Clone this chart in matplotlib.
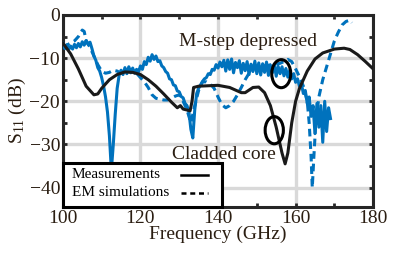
import numpy as np
import matplotlib
matplotlib.use('Agg')
import matplotlib.pyplot as plt
from matplotlib.patches import Ellipse, Rectangle

plt.rcParams['font.family'] = ['Liberation Serif', 'DejaVu Serif']
plt.rcParams['mathtext.fontset'] = 'custom'
plt.rcParams['mathtext.rm'] = 'Liberation Serif'
plt.rcParams['mathtext.it'] = 'Liberation Serif'

# measured S11 (noisy), 0.5 GHz step from 100 GHz
meas_f0 = 100.0
meas_step = 0.5
meas_s11 = [
    -6.5, -7.8, -6.9, -8.0, -7.2, -7.9, -6.8, -7.6, -6.6, -7.4, -6.2, -7.0, -5.9, -6.8, -6.3,
    -7.8, -9.5, -10.5, -12.2, -13.0, -14.5, -16.5, -19.0, -22.5, -28.0, -36.0, -30.0, -23.0,
    -17.0, -14.0, -12.8, -13.8, -12.2, -13.6, -12.0, -13.4, -12.3, -13.5, -12.6, -13.2, -11.8,
    -12.6, -10.8, -11.5, -9.8, -10.7, -9.2, -10.3, -9.5, -10.8, -10.6, -11.8, -12.2, -13.1,
    -13.5, -14.8, -15.0, -16.2, -16.4, -17.6, -17.8, -18.9, -19.2, -20.5, -21.0, -22.5, -26.5,
    -28.5, -22.0, -18.2, -17.0, -16.2, -15.4, -14.8, -14.5, -13.6, -13.8, -12.6, -12.8, -11.5,
    -12.3, -10.9, -12.0, -10.5, -13.0, -10.4, -12.6, -10.2, -13.4, -11.0, -12.2, -10.6, -13.5,
    -11.2, -12.9, -10.8, -13.8, -11.4, -13.1, -10.7, -13.6, -11.1, -13.9, -11.3, -13.3, -10.9,
    -14.0, -11.6, -13.4, -11.4, -14.2, -11.9, -13.6, -12.0, -14.1, -12.4, -14.4, -12.8, -14.8,
    -13.6, -15.6, -14.8, -16.5, -16.0, -18.2, -17.5, -20.5, -19.0, -23.5, -21.0, -27.5, -20.5,
    -26.0, -21.0, -29.5, -20.0, -27.0, -21.5, -24.0,
]
meas_freq = meas_f0 + meas_step * np.arange(len(meas_s11))

# EM simulation (blue dashed)
sim_freq = [100, 101, 102, 103, 104, 105, 105.5, 106, 107, 108, 109, 110, 111, 112, 113, 114,
            115, 116, 117, 118, 119, 120, 121, 122, 123, 124, 125, 126, 127, 128, 129, 130,
            131, 132, 133, 134, 135, 136, 137, 138, 139, 140, 141, 142, 143, 144, 145, 146,
            147, 148, 149, 150, 152, 154, 156, 157, 158, 159, 160, 161, 162, 163, 163.5, 164,
            164.3, 164.7, 165.2, 166, 167, 168, 169, 170, 171, 172, 173, 174, 174.5]
sim_s11 = [-7.5, -7, -6.5, -6, -5, -3.5, -3.8, -6, -7.5, -9.5, -11.5, -13, -13.5, -13.3, -12.8,
           -13, -13.5, -13, -12.5, -12.8, -13.5, -14.5, -15.5, -16.8, -18.5, -19.3, -19.5,
           -19.7, -19.7, -19.3, -18.8, -18.5, -20, -22, -25, -21, -17.5, -15.5, -15.5, -16,
           -17, -19, -20.8, -21.5, -21, -20, -18.5, -16.8, -15, -13.5, -12.5, -12, -11.8,
           -11.5, -11.2, -10.8, -10.3, -10.8, -12.5, -14.3, -16.5, -20, -25, -33, -40, -33,
           -25, -19, -15, -12, -9, -6, -4, -2.3, -1.5, -1.2, -1.8]

# smooth black curve
blk_freq = [100, 102, 104, 106, 108, 109, 110, 112, 114, 116, 118, 120, 122, 124, 126, 128,
            129.5, 130.3, 131, 132.8, 133.3, 133.7, 135, 140, 143, 146, 147, 149, 150.5, 152,
            153.5, 155, 156.5, 157.3, 158, 159, 160, 161, 163, 165, 167, 170, 172.5, 174, 176,
            178, 180]
blk_s11 = [-6.5, -9, -12.5, -16.5, -18.5, -18.3, -17, -15, -13.8, -13.2, -13.3, -13.8, -15,
           -16.5, -18.3, -20.2, -21.5, -21, -21.8, -22.2, -20, -16.8, -16.5, -16.3, -16.8,
           -18, -18, -16.8, -16.7, -18, -21, -26, -32, -34.5, -32, -25, -20, -17, -13, -10.2,
           -8.8, -7.9, -7.7, -8, -9.2, -10.8, -12.5]

legend_labels = ['Measurements', 'EM simulations']

blue = '#0072BD'
txt = '#2b1e12'

fig = plt.figure(figsize=(4.03, 2.54), dpi=100)
ax = fig.add_axes([0.156, 0.185, 0.77, 0.756])

ax.plot(meas_freq, meas_s11, color=blue, lw=2.2, zorder=3)
ax.plot(sim_freq, sim_s11, color=blue, lw=2.2, dashes=(2.5, 1.6), zorder=3)
ax.plot(blk_freq, blk_s11, color='#1a1a1a', lw=2.2, zorder=4)

ax.add_patch(Ellipse((156.3, -13.6), 4.9, 6.5, fill=False, ec='black', lw=2.2, zorder=5))
ax.add_patch(Ellipse((154.5, -26.7), 4.7, 6.3, fill=False, ec='black', lw=2.2, zorder=5))

ax.text(129.9, -6.2, 'M-step depressed', fontsize=14, color=txt, va='center', ha='left', zorder=6)
ax.text(128.1, -32.4, 'Cladded core', fontsize=14, color=txt, va='center', ha='left', zorder=6)

ax.set_xlim(100, 180)
ax.set_ylim(-44.5, 0)
ax.set_xticks([100, 120, 140, 160, 180])
ax.set_xticks(np.arange(100, 181, 10), minor=True)
ax.set_yticks([-40, -30, -20, -10, 0])
ax.set_yticks(np.arange(-40, 1, 5), minor=True)
ax.grid(True, which='major', color='#d9d9d9', lw=2.4, zorder=0)
ax.set_axisbelow(True)
ax.tick_params(which='both', direction='in', top=True, right=True, length=3, width=2,
               colors='#262626', labelcolor=txt, labelsize=14, pad=2)
for s in ax.spines.values():
    s.set_linewidth(2.2)
    s.set_color('#262626')

ax.set_xlabel('Frequency (GHz)', fontsize=14, color=txt, labelpad=-1)
ax.set_ylabel('S$_{11}$ (dB)', fontsize=14, color=txt, labelpad=1)

# legend box: text left, line sample right
ax.add_patch(Rectangle((0, 0), 0.513, 0.229, transform=ax.transAxes, fc='white',
                       ec='black', lw=2.2, zorder=10, clip_on=False))
styles = [dict(ls='-'), dict(dashes=(2, 1.5))]
rows_y = [0.167, 0.075]
for lab, st, yy in zip(legend_labels, styles, rows_y):
    ax.text(0.028, yy, lab, transform=ax.transAxes, fontsize=11, color='black',
            va='center', ha='left', zorder=11)
    ax.plot([0.38, 0.468], [yy, yy], transform=ax.transAxes, color='black', lw=1.8,
            zorder=11, clip_on=False, **st)

fig.savefig('out.png', dpi=100)
